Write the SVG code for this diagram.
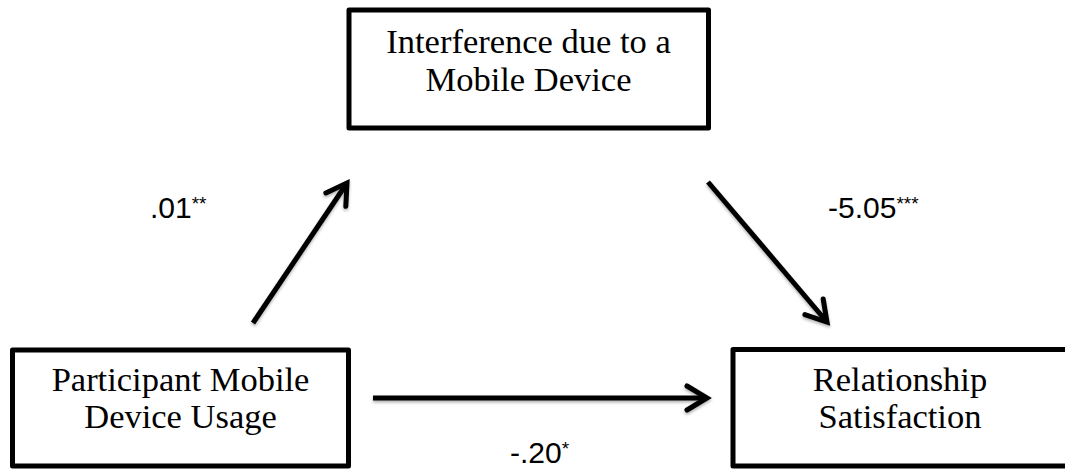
<svg xmlns="http://www.w3.org/2000/svg" width="1065" height="469" viewBox="0 0 1065 469">
  <style>
    .box { fill: #ffffff; stroke: #000000; stroke-width: 5; stroke-linejoin: round; }
    .label { font-family: "Liberation Serif", "Times New Roman", serif; font-size: 34.5px; fill: #000000; text-anchor: middle; }
    .coef { font-family: "Liberation Sans", Arial, sans-serif; font-size: 30px; fill: #000000; }
    .sig { font-size: 19px; }
    .arrow { fill: none; stroke: #000000; stroke-width: 5; marker-end: url(#head); }
  </style>
  <defs>
    <marker id="head" markerUnits="userSpaceOnUse" markerWidth="40" markerHeight="40" refX="0" refY="0" orient="auto" overflow="visible" viewBox="-30 -20 40 40">
      <path d="M-20,-12 L0,0 L-20,12" fill="none" stroke="#000000" stroke-width="5" stroke-linecap="round" stroke-linejoin="miter"/>
    </marker>
    <!-- soft drop shadow under the arrows; user-space region so the flat horizontal arrow still renders -->
    <filter id="shadow" filterUnits="userSpaceOnUse" x="0" y="0" width="1065" height="469">
      <feDropShadow dx="0" dy="2" stdDeviation="1.5" flood-color="#000000" flood-opacity="0.3"/>
    </filter>
  </defs>

  <rect width="1065" height="469" fill="#ffffff"/>

  <g id="connectors" filter="url(#shadow)">
    <path class="arrow" d="M253,323 L347,183"/>
    <path class="arrow" d="M708,182 L827,322"/>
    <path class="arrow" d="M373,398 L707,398"/>
  </g>

  <g id="node-interference">
    <rect class="box" x="349" y="10" width="359.5" height="118"/>
    <text class="label" x="528.5" y="53">Interference due to a</text>
    <text class="label" x="528.5" y="91">Mobile Device</text>
  </g>

  <g id="node-usage">
    <rect class="box" x="12.5" y="350" width="336" height="116"/>
    <text class="label" x="180.5" y="391">Participant Mobile</text>
    <text class="label" x="180.5" y="428">Device Usage</text>
  </g>

  <g id="node-satisfaction">
    <rect class="box" x="733" y="349.5" width="350" height="116.5"/>
    <text class="label" x="900" y="391">Relationship</text>
    <text class="label" x="900" y="428">Satisfaction</text>
  </g>

  <g id="coefficients">
    <text class="coef" x="150" y="218">.01<tspan class="sig" dy="-8">**</tspan></text>
    <text class="coef" x="828" y="218">-5.05<tspan class="sig" dy="-8">***</tspan></text>
    <text class="coef" x="510" y="463">-.20<tspan class="sig" dy="-8">*</tspan></text>
  </g>
</svg>
